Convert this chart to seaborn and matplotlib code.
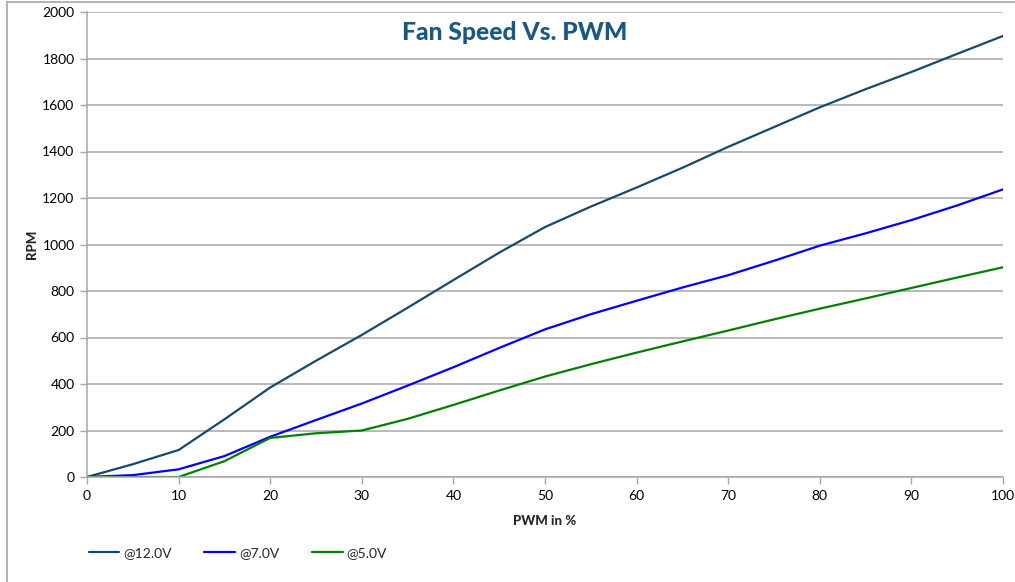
import matplotlib
matplotlib.use("Agg")
import matplotlib.pyplot as plt
from matplotlib.lines import Line2D
import seaborn as sns
import pandas as pd

pwm = [0, 5, 10, 15, 20, 25, 30, 35, 40, 45, 50, 55, 60, 65, 70, 75, 80, 85, 90, 95, 100]
rpm_12v = [0, 55, 116, 248, 385, 500, 611, 728, 847, 965, 1075, 1163, 1245, 1330, 1420, 1505, 1590, 1668, 1742, 1820, 1897]
rpm_7v = [0, 8, 33, 90, 173, 245, 316, 393, 472, 555, 635, 700, 758, 815, 868, 930, 995, 1048, 1105, 1168, 1237]
rpm_5v = [0, 0, 0, 68, 168, 188, 200, 250, 310, 372, 432, 485, 535, 583, 630, 678, 724, 768, 813, 858, 902]
series_names = ["@12.0V", "@7.0V", "@5.0V"]
colors = ["#17486E", "#0000FF", "#008000"]
title = "Fan Speed Vs. PWM"
x_label = "PWM in %"
y_label = "RPM"

df = pd.concat([
    pd.DataFrame({"PWM": pwm, "RPM": vals, "Series": name})
    for name, vals in zip(series_names, [rpm_12v, rpm_7v, rpm_5v])
])

sns.set_theme(style="white")
plt.rcParams["font.family"] = ["Lato", "DejaVu Sans"]

W, H = 1015, 582
fig = plt.figure(figsize=(W / 100, H / 100), dpi=100)
ax = fig.add_axes([87 / W, 1 - 477 / H, (1003 - 87) / W, (477 - 12) / H])

sns.lineplot(data=df, x="PWM", y="RPM", hue="Series", hue_order=series_names,
             palette=colors, linewidth=1.6, ax=ax, legend=False)

ax.set_xlim(0, 100)
ax.set_ylim(0, 2000)
ax.set_xticks(range(0, 101, 10))
ax.set_yticks(range(0, 2001, 200))
ax.yaxis.grid(True, color="#A6A6A6", linewidth=1.1)
ax.xaxis.grid(False)
ax.set_axisbelow(True)
for s in ["top", "right"]:
    ax.spines[s].set_visible(False)
for s in ["left", "bottom"]:
    ax.spines[s].set_color("#A6A6A6")
    ax.spines[s].set_linewidth(1.1)
ax.tick_params(axis="both", which="major", direction="out", length=5, width=1,
               color="#A6A6A6", labelsize=10, labelcolor="#000000", pad=4,
               left=True, bottom=True)

ax.set_xlabel(x_label, fontsize=9.5, fontweight="black", labelpad=10)
ax.set_ylabel(y_label, fontsize=9.5, fontweight="black", labelpad=3)

fig.text(515 / W, 1 - 32 / H, title, ha="center", va="center",
         fontsize=17.8, fontweight="black", color="#175888")

handles = [Line2D([0], [0], color=c, linewidth=1.6) for c in colors]
fig.legend(handles, series_names, loc="center left",
           bbox_to_anchor=(76 / W, 1 - 553 / H), ncol=3, frameon=False,
           fontsize=10, handlelength=2.2, handletextpad=0.3, columnspacing=2.35)

# outer chart frame
fig.add_artist(Line2D([7 / W, 7 / W], [0, 1 - 2 / H], color="#A6A6A6", linewidth=1.2,
                      transform=fig.transFigure))
fig.add_artist(Line2D([7 / W, 1], [1 - 2 / H, 1 - 2 / H], color="#A6A6A6", linewidth=1.2,
                      transform=fig.transFigure))

fig.savefig("out.png", dpi=100)
